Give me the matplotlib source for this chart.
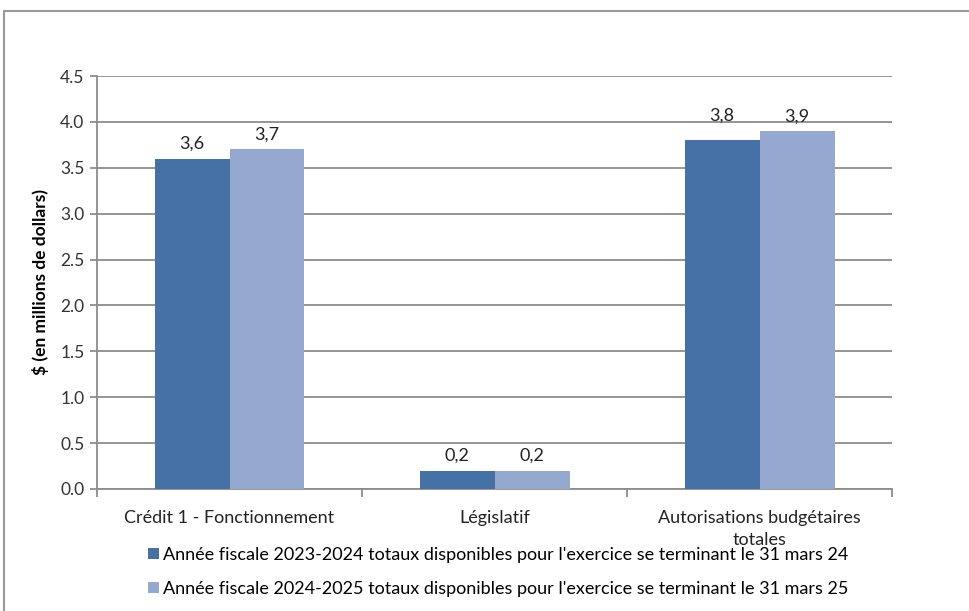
import matplotlib.pyplot as plt
from matplotlib.lines import Line2D
import numpy as np

categories = ["Crédit 1 - Fonctionnement", "Législatif", "Autorisations budgétaires\ntotales"]
values_2024 = [3.6, 0.2, 3.8]
values_2025 = [3.7, 0.2, 3.9]
series_names = ["Année fiscale 2023-2024 totaux disponibles pour l'exercice se terminant le 31 mars 24",
                "Année fiscale 2024-2025 totaux disponibles pour l'exercice se terminant le 31 mars 25"]
yticks = [0.0, 0.5, 1.0, 1.5, 2.0, 2.5, 3.0, 3.5, 4.0, 4.5]

dark = "#4571A6"
light = "#95A9D0"
grid_col = "#8C8C8C"

plt.rcParams['font.family'] = ['Lato', 'DejaVu Sans']

fig = plt.figure(figsize=(9.7, 6.11), dpi=100)
ax = fig.add_axes([0.1, 0.1997, 0.8196, 0.6759])

x = np.arange(len(categories))
w = 0.283
b1 = ax.bar(x - w / 2, values_2024, w, color=dark, label=series_names[0], zorder=3)
b2 = ax.bar(x + w / 2, values_2025, w, color=light, label=series_names[1], zorder=3)

# label offsets in points (excel lifted the 3,8 label to line up with 3,9)
offsets = [[5, 5, 12], [5, 5, 5]]
for bars, vals, offs in ((b1, values_2024, offsets[0]), (b2, values_2025, offsets[1])):
    for r, v, o in zip(bars, vals, offs):
        ax.annotate(f"{v:.1f}".replace(".", ","), (r.get_x() + r.get_width() / 2, v),
                    xytext=(0, o), textcoords="offset points", ha="center", va="bottom",
                    fontsize=13, color="#222222")

ax.set_xlim(-0.5, 2.5)
ax.set_ylim(0, 4.5)
ax.set_yticks(yticks)
ax.set_yticklabels([f"{t:.1f}" for t in yticks])
ax.yaxis.grid(True, color=grid_col, linewidth=1.3, zorder=0)
ax.set_axisbelow(True)

ax.set_xticks(x)
ax.set_xticklabels(categories, linespacing=1.5)
ax.set_xticks([-0.5, 0.5, 1.5, 2.5], minor=True)
ax.tick_params(axis="x", which="major", length=0, pad=15, labelsize=13, labelcolor="#222222")
ax.tick_params(axis="x", which="minor", length=6, width=1.3, color=grid_col)
ax.tick_params(axis="y", length=5, width=1.3, color=grid_col, labelsize=12.5, labelcolor="#333333", pad=4)

for s in ("top", "right"):
    ax.spines[s].set_visible(False)
for s in ("left", "bottom"):
    ax.spines[s].set_color(grid_col)
    ax.spines[s].set_linewidth(1.3)

ax.set_ylabel("\\$ (en millions de dollars)", fontsize=12.5, fontweight="bold")
ax.yaxis.set_label_coords(-0.06, 0.5)

fig.legend(handles=[b1, b2], loc="upper left", bbox_to_anchor=(0.145, 0.117),
           frameon=False, fontsize=13, handlelength=0.6, handleheight=0.6,
           handletextpad=0.25, labelspacing=1.0, borderaxespad=0)

# outer chart frame
fig.add_artist(Line2D([0.0041, 0.0041, 1.0], [0.0, 0.982, 0.982], transform=fig.transFigure,
                      color="#9A9A9A", linewidth=1.5))

fig.savefig("out.png", dpi=100)
